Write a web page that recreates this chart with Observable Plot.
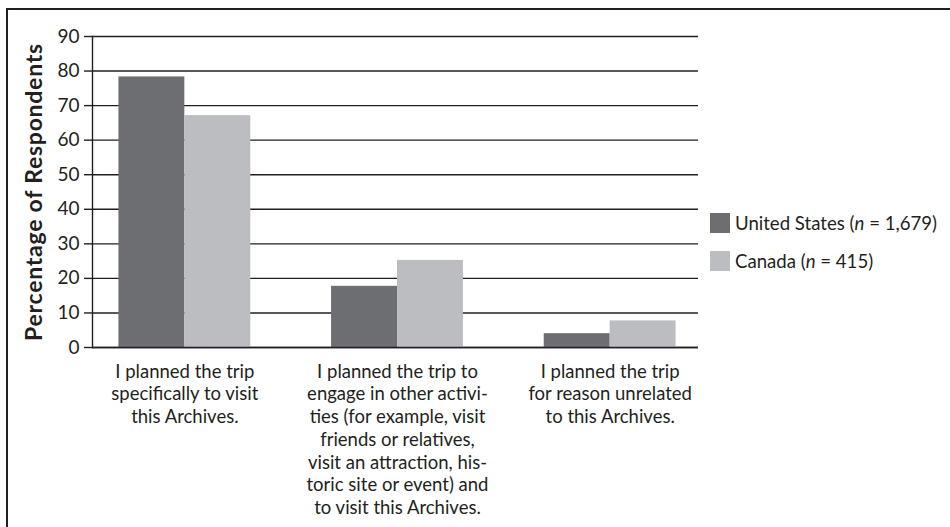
<!DOCTYPE html>
<html>
<head>
<meta charset="utf-8">
<script src="https://cdn.jsdelivr.net/npm/d3@7"></script>
<script src="https://cdn.jsdelivr.net/npm/@observablehq/plot@0.6"></script>
<style>
  html, body { margin: 0; padding: 0; background: #fff; }
  #wrap { position: relative; width: 950px; height: 527px; overflow: hidden; font-family: Lato, "Open Sans", sans-serif; color: #231f20; }
  #box { position: absolute; left: 6px; top: 8px; width: 1000px; height: 600px; border: 2px solid #231f20; box-sizing: border-box; }
  #chart { position: absolute; left: 0; top: 0; }
  #ytitle { position: absolute; left: 33px; top: 192px; transform: translate(-50%, -50%) rotate(-90deg); white-space: nowrap; font-weight: bold; font-size: 23px; letter-spacing: 0.75px; }
  #legend { position: absolute; left: 710px; top: 213px; font-size: 18.6px; }
  .item { display: flex; align-items: center; height: 20px; margin-bottom: 18px; white-space: nowrap; }
  .sw { width: 20px; height: 20px; margin-right: 5px; }
</style>
</head>
<body>
<div id="wrap">
  <div id="box"></div>
  <div id="chart"></div>
  <div id="ytitle"></div>
  <div id="legend"></div>
</div>
<script>
// ---- data ----
const categories = [
  "I planned the trip\nspecifically to visit\nthis Archives.",
  "I planned the trip to\nengage in other activi-\nties (for example, visit\nfriends or relatives,\nvisit an attraction, his-\ntoric site or event) and\nto visit this Archives.",
  "I planned the trip\nfor reason unrelated\nto this Archives."
];
const seriesNames = ["United States", "Canada"];
const seriesN = ["1,679", "415"];
const seriesColors = ["#6d6e71", "#bcbdc0"];
const unitedStates = [78.3, 17.7, 4.0];
const canada = [67.1, 25.2, 7.7];
const yTicks = [0, 10, 20, 30, 40, 50, 60, 70, 80, 90];
const yTitle = "Percentage of Respondents";

// table: one row per category × series; position in the group comes from the indexes
const data = [];
categories.forEach((c, i) => {
  data.push({ci: i, si: 0, series: seriesNames[0], value: unitedStates[i]});
  data.push({ci: i, si: 1, series: seriesNames[1], value: canada[i]});
});
const barFrac = 0.31; // width of one bar as a fraction of a category slot

const ink = "#231f20";
const chart = Plot.plot({
  width: 950,
  height: 527,
  marginLeft: 92,
  marginRight: 252,
  marginTop: 36,
  marginBottom: 180,
  style: {fontFamily: "Lato, 'Open Sans', sans-serif", fontSize: "18.5px", color: ink, background: "transparent", overflow: "visible"},
  x: {domain: [-0.5, categories.length - 0.5], range: [78, 716], axis: null},
  y: {domain: [0, 90], axis: null},
  color: {domain: seriesNames, range: seriesColors},
  marks: [
    Plot.ruleY(yTicks, {stroke: ink, strokeWidth: 1.4}),
    Plot.rectY(data, {
      x1: d => d.ci + (d.si - 1) * barFrac,
      x2: d => d.ci + d.si * barFrac,
      y1: 0, y2: "value", fill: "series"
    }),
    Plot.ruleY([0], {stroke: ink, strokeWidth: 1.4}),
    Plot.frame({anchor: "left", stroke: ink, strokeWidth: 1.4}),
    Plot.axisY({ticks: yTicks, tickSize: 8, tickPadding: 5, label: null, fontSize: 19, stroke: ink, strokeWidth: 1.4}),
    Plot.axisX({anchor: "bottom", ticks: d3.range(categories.length), tickFormat: i => categories[i], tickSize: 0, tickPadding: 14, label: null, lineHeight: 1.23, fontSize: 18.5})
  ]
});
document.getElementById("chart").appendChild(chart);

document.getElementById("ytitle").textContent = yTitle;
const legend = document.getElementById("legend");
seriesNames.forEach((s, i) => {
  const it = document.createElement("div");
  it.className = "item";
  it.innerHTML = `<span class="sw" style="background:${seriesColors[i]}"></span><span>${s} (<i>n</i> = ${seriesN[i]})</span>`;
  legend.appendChild(it);
});
</script>
</body>
</html>
